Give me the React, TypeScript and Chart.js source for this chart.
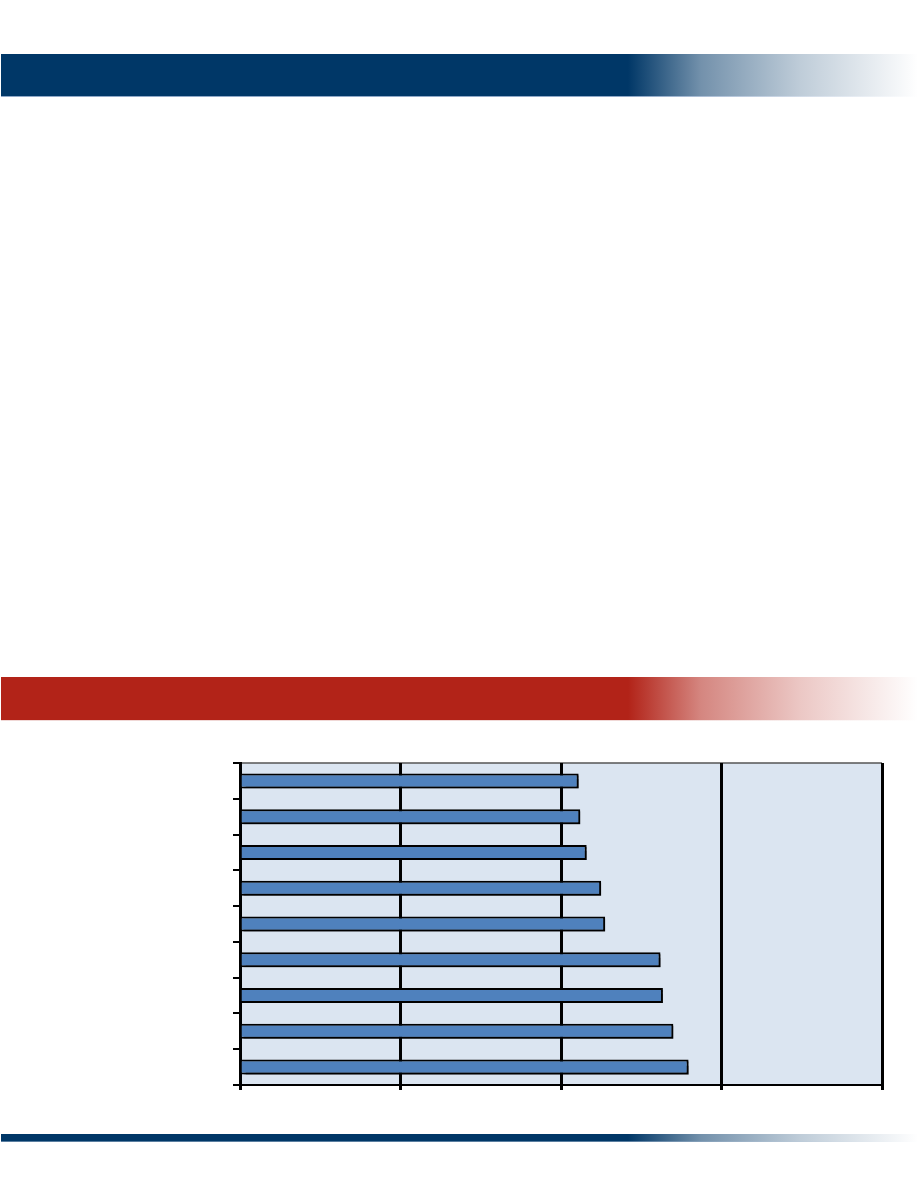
import React, { useEffect, useRef } from "react";
import { Chart, registerables } from "chart.js";

Chart.register(...registerables);

const categories = ["1", "2", "3", "4", "5", "6", "7", "8", "9"];
const values = [21.1, 21.2, 21.6, 22.5, 22.75, 26.2, 26.35, 27.0, 27.95];
const xTicks = [0, 10, 20, 30, 40];

const NAVY = "#003767";
const RED = "#B22318";

function Band({ top, height, color, rgb, line }: { top: number; height: number; color: string; rgb: string; line: string }) {
  return (
    <>
      <div
        style={{
          position: "absolute",
          left: 1,
          top,
          width: 917,
          height,
          background: `linear-gradient(to right, ${color} 0px, ${color} 627px, rgba(${rgb},0.55) 700px, rgba(${rgb},0.25) 800px, rgba(${rgb},0) 917px)`,
        }}
      />
      <div
        style={{
          position: "absolute",
          left: 1,
          top: top + height,
          width: 917,
          height: 1,
          background: `linear-gradient(to right, ${line} 0px, ${line} 627px, rgba(255,255,255,0) 917px)`,
        }}
      />
    </>
  );
}

export default function App() {
  const ref = useRef<HTMLCanvasElement>(null);

  useEffect(() => {
    document.body.style.margin = "0";
    const bgPlugin = {
      id: "plotbg",
      beforeDraw(chart: any) {
        const { ctx, chartArea: a } = chart;
        ctx.save();
        ctx.fillStyle = "#DBE5F1";
        ctx.fillRect(a.left, a.top, a.right - a.left, a.bottom - a.top);
        ctx.strokeStyle = "#555555";
        ctx.lineWidth = 1.5;
        ctx.beginPath();
        ctx.moveTo(a.left, a.top);
        ctx.lineTo(a.right, a.top);
        ctx.stroke();
        ctx.restore();
      },
      beforeDatasetsDraw(chart: any) {
        const ctx = chart.ctx;
        ctx.save();
        ctx.shadowColor = "rgba(0,0,0,0.55)";
        ctx.shadowOffsetX = 2;
        ctx.shadowOffsetY = 2;
        ctx.shadowBlur = 1;
      },
      afterDatasetsDraw(chart: any) {
        chart.ctx.restore();
      },
    };
    const chart = new Chart(ref.current!, {
      type: "bar",
      data: {
        labels: categories,
        datasets: [
          {
            data: values,
            backgroundColor: "#4F81BD",
            borderColor: "#000000",
            borderWidth: 2,
            borderSkipped: "start",
            categoryPercentage: 1,
            barPercentage: 0.42,
          },
        ],
      },
      options: {
        indexAxis: "y",
        animation: false,
        responsive: false,
        maintainAspectRatio: false,
        layout: { padding: { left: 0, right: 18, top: 23, bottom: 0 } },
        plugins: { legend: { display: false }, tooltip: { enabled: false } },
        scales: {
          x: {
            min: xTicks[0],
            max: xTicks[xTicks.length - 1],
            afterBuildTicks(scale: any) {
              scale.ticks = xTicks.map((v) => ({ value: v }));
            },
            ticks: { display: false },
            grid: { color: "#000000", lineWidth: 3, tickLength: 5, drawTicks: true },
            border: { display: true, color: "#000000", width: 2 },
            afterFit(scale: any) {
              scale.height = 25;
            },
          },
          y: {
            ticks: { display: false },
            grid: { offset: true, drawOnChartArea: false, color: "#000000", lineWidth: 2, tickLength: 7 },
            border: { display: true, color: "#000000", width: 3 },
            afterFit(scale: any) {
              scale.width = 40;
            },
          },
        },
      },
      plugins: [bgPlugin],
    });
    return () => chart.destroy();
  }, []);

  return (
    <div style={{ position: "absolute", left: 0, top: 0, width: 918, height: 1188, background: "#ffffff", overflow: "hidden" }}>
      <Band top={54} height={42} color={NAVY} rgb="0,55,103" line="#8FA8C8" />
      <Band top={677} height={43} color={RED} rgb="178,35,24" line="#F0D8D6" />
      <Band top={1134} height={7} color={NAVY} rgb="0,55,103" line="#5A7EA0" />
      <canvas ref={ref} width={700} height={370} style={{ position: "absolute", left: 200, top: 740, width: 700, height: 370 }} />
    </div>
  );
}
